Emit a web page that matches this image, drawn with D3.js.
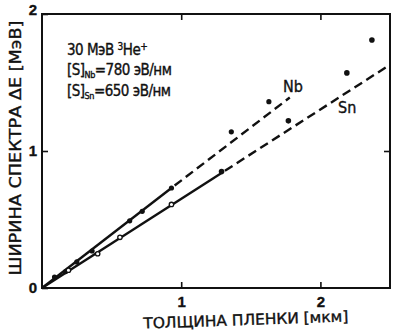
<!DOCTYPE html>
<html>
<head>
<meta charset="utf-8">
<script src="https://cdn.jsdelivr.net/npm/d3@7"></script>
<style>
  body { margin: 0; background: #fff; }
  svg { display: block; }
  text { fill: #111; stroke: #111; stroke-width: 0.35; font-family: "Liberation Sans Narrow", "DejaVu Sans Condensed", "Liberation Sans", sans-serif; }
</style>
</head>
<body>
<div id="chart"></div>
<script>
// Measured points (thickness in um, spectrum width in MeV)
const nbX = [0.09, 0.17, 0.25, 0.36, 0.63, 0.72, 0.93, 1.36, 1.63];
const nbY = [0.08, 0.12, 0.19, 0.27, 0.49, 0.56, 0.73, 1.14, 1.36];
const snOpenX = [0.19, 0.40, 0.56, 0.93];
const snOpenY = [0.13, 0.25, 0.37, 0.61];
const snX = [1.29, 1.77, 2.19, 2.37];
const snY = [0.85, 1.22, 1.57, 1.81];

// Fit lines: origin, end of solid part, end of dashed part
const nbLineX = [0, 0.93, 1.78];
const nbLineY = [0, 0.73, 1.39];
const snLineX = [0, 1.29, 2.47];
const snLineY = [0, 0.84, 1.61];

const xTicks = [1, 2];
const yTicks = [0, 1, 2];

const W = 393, H = 334;
const margin = { top: 14, right: 3, bottom: 46, left: 42 };
const width = W - margin.left - margin.right;
const height = H - margin.top - margin.bottom;

const svg = d3.select("#chart").append("svg")
  .attr("width", W)
  .attr("height", H);

const g = svg.append("g")
  .attr("transform", `translate(${margin.left},${margin.top})`);

const x = d3.scaleLinear().domain([0, 2.5]).range([0, width]);
const y = d3.scaleLinear().domain([0, 2]).range([height, 0]);

// Frame
g.append("rect")
  .attr("width", width).attr("height", height)
  .attr("fill", "none").attr("stroke", "#111").attr("stroke-width", 2);

// Axes with inward ticks
const xAxis = d3.axisBottom(x).tickValues(xTicks).tickFormat(d3.format("d"))
  .tickSizeInner(-6).tickSizeOuter(0).tickPadding(8);
const yAxis = d3.axisLeft(y).tickValues(yTicks).tickFormat(d3.format("d"))
  .tickSizeInner(-6).tickSizeOuter(0).tickPadding(5);

function style(sel) {
  sel.select(".domain").remove();
  sel.selectAll(".tick line").attr("stroke", "#111").attr("stroke-width", 1.6);
  sel.selectAll(".tick text").attr("font-size", 15).attr("font-weight", "bold").attr("fill", "#111")
    .style("font-family", "'Liberation Sans', Arial, sans-serif");
}

g.append("g").attr("transform", `translate(0,${height})`).call(xAxis).call(style);
const yg = g.append("g").call(yAxis).call(style);
yg.selectAll(".tick text").filter(d => d === 2).attr("dy", "0.05em");

// Mirrored ticks on top and right
g.append("g").call(d3.axisTop(x).tickValues(xTicks).tickFormat("").tickSizeInner(-6).tickSizeOuter(0)).call(style);
g.append("g").attr("transform", `translate(${width},0)`)
  .call(d3.axisRight(y).tickValues([1]).tickFormat("").tickSizeInner(-6).tickSizeOuter(0)).call(style);

// Fit lines
function drawFit(lx, ly) {
  const solid = [0, 1].map(i => [lx[i], ly[i]]);
  const dashed = [1, 2].map(i => [lx[i], ly[i]]);
  const line = d3.line().x(d => x(d[0])).y(d => y(d[1]));
  g.append("path").attr("d", line(solid)).attr("fill", "none")
    .attr("stroke", "#111").attr("stroke-width", 2.4);
  g.append("path").attr("d", line(dashed)).attr("fill", "none")
    .attr("stroke", "#111").attr("stroke-width", 2.4)
    .attr("stroke-dasharray", "9,5").attr("stroke-dashoffset", -4);
}
drawFit(nbLineX, nbLineY);
drawFit(snLineX, snLineY);

// Points
const nbPts = nbX.map((v, i) => ({ x: v, y: nbY[i] }));
const snOpenPts = snOpenX.map((v, i) => ({ x: v, y: snOpenY[i] }));
const snPts = snX.map((v, i) => ({ x: v, y: snY[i] }));

g.selectAll("circle.nb").data(nbPts).enter().append("circle")
  .attr("class", "nb")
  .attr("cx", d => x(d.x)).attr("cy", d => y(d.y))
  .attr("r", 2.6).attr("fill", "#111");

g.selectAll("circle.snopen").data(snOpenPts).enter().append("circle")
  .attr("class", "snopen")
  .attr("cx", d => x(d.x)).attr("cy", d => y(d.y))
  .attr("r", 2.2).attr("fill", "#fff").attr("stroke", "#111").attr("stroke-width", 1.3);

g.selectAll("circle.sn").data(snPts).enter().append("circle")
  .attr("class", "sn")
  .attr("cx", d => x(d.x)).attr("cy", d => y(d.y))
  .attr("r", 2.8).attr("fill", "#111");

// Line labels
svg.append("text").attr("x", 283).attr("y", 92).attr("font-size", 16).text("Nb");
svg.append("text").attr("x", 338).attr("y", 113).attr("font-size", 16).text("Sn");

// Annotation
const ann = svg.append("g").attr("font-size", 15);
const t1 = ann.append("text").attr("x", 67).attr("y", 55).attr("letter-spacing", -0.5);
t1.append("tspan").text("30 МэВ ");
t1.append("tspan").attr("font-size", 10).attr("dy", -5).text("3");
t1.append("tspan").attr("dy", 5).text("He");
t1.append("tspan").attr("font-size", 10).attr("dy", -5).text("+");

const t2 = ann.append("text").attr("x", 67).attr("y", 75).attr("letter-spacing", -0.5);
t2.append("tspan").text("[S]");
t2.append("tspan").attr("font-size", 9).attr("dy", 3).text("Nb");
t2.append("tspan").attr("dy", -3).text("=780 эВ/нм");

const t3 = ann.append("text").attr("x", 67).attr("y", 96).attr("letter-spacing", -0.5);
t3.append("tspan").text("[S]");
t3.append("tspan").attr("font-size", 9).attr("dy", 3).text("Sn");
t3.append("tspan").attr("dy", -3).text("=650 эВ/нм");

// Axis titles
svg.append("text")
  .attr("transform", "translate(21,148) rotate(-90)")
  .attr("text-anchor", "middle")
  .attr("font-size", 16)
  .attr("textLength", 255).attr("lengthAdjust", "spacingAndGlyphs")
  .text("ШИРИНА СПЕКТРА ΔЕ [МэВ]");

svg.append("text")
  .attr("transform", "translate(246,325) rotate(-2)")
  .attr("text-anchor", "middle")
  .attr("font-size", 15)
  .attr("textLength", 205).attr("lengthAdjust", "spacingAndGlyphs")
  .text("ТОЛЩИНА ПЛЕНКИ  [мкм]");
</script>
</body>
</html>
